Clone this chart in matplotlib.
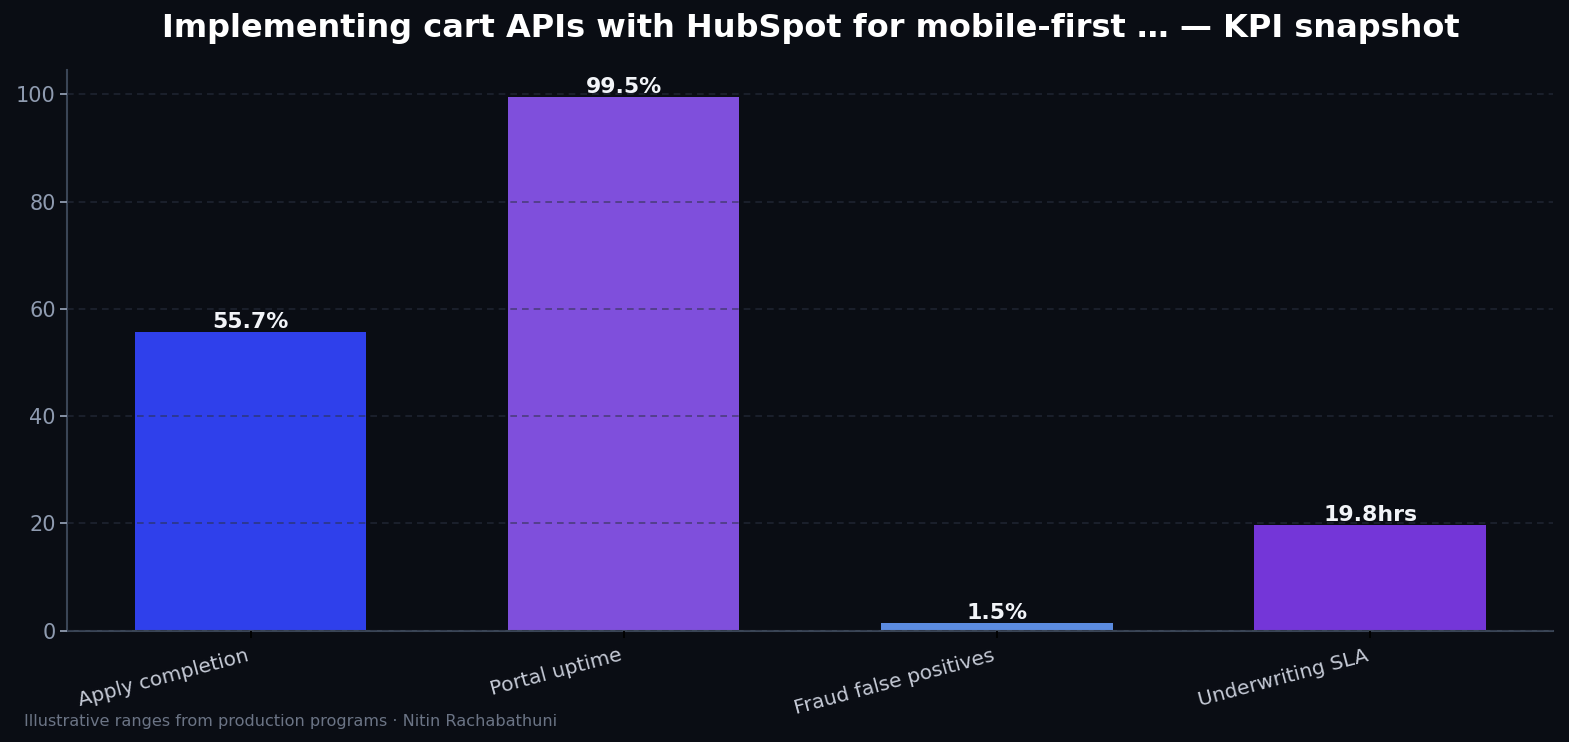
import matplotlib
matplotlib.use("Agg")
import matplotlib.pyplot as plt

plt.rcParams["font.family"] = ["DejaVu Sans"]

categories = ["Apply completion", "Portal uptime", "Fraud false positives", "Underwriting SLA"]
values = [55.7, 99.5, 1.5, 19.8]
labels = ["55.7%", "99.5%", "1.5%", "19.8hrs"]
colors = ["#2f40eb", "#7f4fdc", "#5b8be0", "#7436d8"]

bg = "#0a0d14"

fig, ax = plt.subplots(figsize=(15.69, 7.42), dpi=100)
fig.patch.set_facecolor(bg)
ax.set_facecolor(bg)

bars = ax.bar(range(len(values)), values, width=0.62, color=colors, zorder=2)
ax.set_ylim(0, max(values) * 1.05)

for b, lab in zip(bars, labels):
    ax.text(b.get_x() + b.get_width() / 2, b.get_height(), lab,
            ha="center", va="bottom", color="#f2f4f8", fontsize=15.8,
            fontweight="bold", zorder=4)

ax.grid(axis="y", linestyle="--", color="#2a3142", alpha=0.6, linewidth=1.2,
        dashes=(4, 3), zorder=3)
ax.set_axisbelow(False)

ax.set_xticks(range(len(categories)))
ax.set_xticklabels(categories, rotation=15, ha="right",
                   color="#c5cad6", fontsize=14.5)
ax.tick_params(axis="x", colors="#000000", labelcolor="#c5cad6", pad=6, length=5, width=1.3)
ax.tick_params(axis="y", colors="#8f9bb0", labelsize=15, length=5, width=1.3)

for s in ["top", "right"]:
    ax.spines[s].set_visible(False)
for s in ["left", "bottom"]:
    ax.spines[s].set_color("#3a4556")
    ax.spines[s].set_linewidth(1.5)

ax.set_title("Implementing cart APIs with HubSpot for mobile-first … — KPI snapshot",
             color="white", fontsize=23.0, fontweight="bold", pad=24)

fig.text(0.015, 0.022, "Illustrative ranges from production programs · Nitin Rachabathuni",
         color="#6b7485", fontsize=11.6)

fig.subplots_adjust(left=0.043, right=0.99, top=0.905, bottom=0.15)
fig.savefig("out.png", dpi=100, facecolor=bg)
